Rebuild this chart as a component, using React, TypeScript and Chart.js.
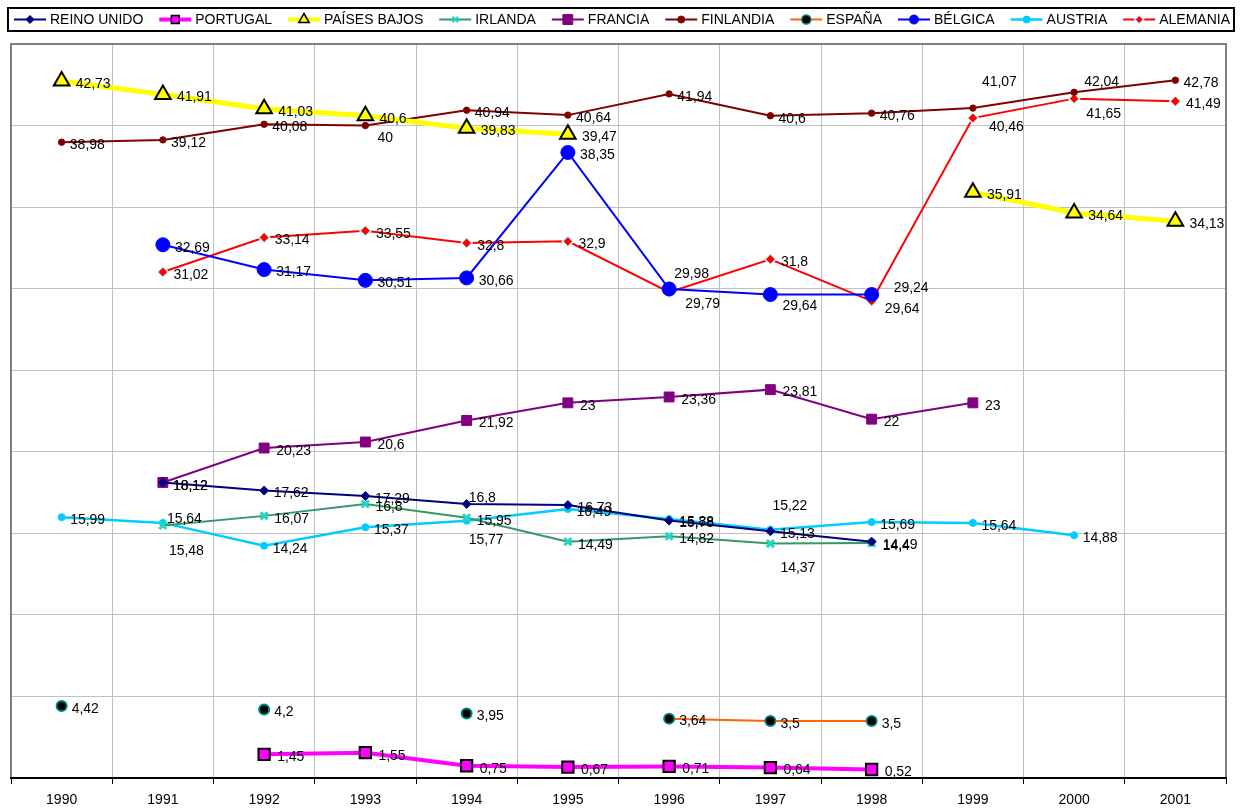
import React, { useEffect, useRef } from 'react';
import { Chart, registerables } from 'chart.js';
import { drawPoint } from 'chart.js/helpers';

Chart.register(...registerables);

const FONT = '"Liberation Sans", Arial, Helvetica, sans-serif';

// ---------- data ----------
const years = ['1990', '1991', '1992', '1993', '1994', '1995', '1996', '1997', '1998', '1999', '2000', '2001'];

const seriesNames = ['REINO UNIDO', 'PORTUGAL', 'PAÍSES BAJOS', 'IRLANDA', 'FRANCIA', 'FINLANDIA', 'ESPAÑA', 'BÉLGICA', 'AUSTRIA', 'ALEMANIA'];

const reinoUnido = [null, 18.12, 17.62, 17.29, 16.8, 16.73, 15.78, 15.13, 14.49, null, null, null];
const portugal = [null, null, 1.45, 1.55, 0.75, 0.67, 0.71, 0.64, 0.52, null, null, null];
const paisesBajos = [42.73, 41.91, 41.03, 40.6, 39.83, 39.47, null, null, null, 35.91, 34.64, 34.13];
const irlanda = [null, 15.48, 16.07, 16.8, 15.95, 14.49, 14.82, 14.37, 14.4, null, null, null];
const francia = [null, 18.12, 20.23, 20.6, 21.92, 23, 23.36, 23.81, 22, 23, null, null];
const finlandia = [38.98, 39.12, 40.08, 40, 40.94, 40.64, 41.94, 40.6, 40.76, 41.07, 42.04, 42.78];
const espana = [4.42, null, 4.2, null, 3.95, null, 3.64, 3.5, 3.5, null, null, null];
const belgica = [null, 32.69, 31.17, 30.51, 30.66, 38.35, 29.98, 29.64, 29.64, null, null, null];
const austria = [15.99, 15.64, 14.24, 15.37, 15.77, 16.49, 15.88, 15.22, 15.69, 15.64, 14.88, null];
const alemania = [null, 31.02, 33.14, 33.55, 32.8, 32.9, 29.79, 31.8, 29.24, 40.46, 41.65, 41.49];

const seriesValues = [reinoUnido, portugal, paisesBajos, irlanda, francia, finlandia, espana, belgica, austria, alemania];

// y axis range / step
const yMin = 0;
const yMax = 45;
const yStep = 5;

// ---------- styles ----------
type Style = {
  line: string;
  width: number;
  pointStyle: string;
  radius: number;
  fill: string;
  border: string;
  borderW: number;
  legendRadius: number;
};

const styles: Style[] = [
  { line: '#000080', width: 2, pointStyle: 'rectRot', radius: 4.5, fill: '#000080', border: '#000080', borderW: 1, legendRadius: 4 },
  { line: '#FF00FF', width: 4, pointStyle: 'rect', radius: 8, fill: '#FF00FF', border: '#000000', borderW: 2, legendRadius: 5.5 },
  { line: '#FFFF00', width: 5, pointStyle: 'triangle', radius: 9, fill: '#FFFF00', border: '#000000', borderW: 2, legendRadius: 6 },
  { line: '#339966', width: 2, pointStyle: 'crossRot', radius: 5, fill: '#33CCCC', border: '#22D8C4', borderW: 3, legendRadius: 4 },
  { line: '#800080', width: 2, pointStyle: 'rect', radius: 7, fill: '#800080', border: '#800080', borderW: 1, legendRadius: 7 },
  { line: '#800000', width: 2, pointStyle: 'circle', radius: 3.2, fill: '#800000', border: '#800000', borderW: 1, legendRadius: 3.5 },
  { line: '#FF6600', width: 2, pointStyle: 'circle', radius: 5, fill: '#000000', border: '#008080', borderW: 2, legendRadius: 4.5 },
  { line: '#0000FF', width: 2, pointStyle: 'circle', radius: 7, fill: '#0000FF', border: '#0000FF', borderW: 1, legendRadius: 4.5 },
  { line: '#00CCFF', width: 2.5, pointStyle: 'circle', radius: 3.5, fill: '#00CCFF', border: '#00CCFF', borderW: 1, legendRadius: 3.5 },
  { line: '#FF0000', width: 2, pointStyle: 'rectRot', radius: 5.5, fill: '#FF0000', border: '#CCFFFF', borderW: 1.5, legendRadius: 4.5 },
];

// label nudges [dx, dy] relative to point centre, by series index and category index
const labelNudges: Record<number, Record<number, [number, number]>> = {
  0: { 1: [10, 4], 4: [2, -6], 6: [10, 3], 8: [11, 3] },
  3: { 1: [6, 26], 7: [10, 25], 8: [11, 3] },
  4: { 1: [10, 4] },
  5: { 3: [12, 13], 9: [9, -26], 10: [10, -10] },
  7: { 6: [5, -15], 7: [12, 12], 8: [13, 15] },
  8: { 1: [4, -4], 4: [2, 19], 6: [10, 3], 7: [2, -24] },
  9: { 6: [16, 12], 8: [22, -13], 9: [16, 9], 10: [12, 15] },
};

const fmt = (v: number) => String(v).replace('.', ',');

// ---------- plugins ----------
const framePlugin = {
  id: 'frame',
  beforeDatasetsDraw(chart: any) {
    const { ctx, chartArea: a } = chart;
    ctx.save();
    ctx.strokeStyle = '#808080';
    ctx.lineWidth = 2;
    ctx.beginPath();
    ctx.moveTo(a.left, a.bottom);
    ctx.lineTo(a.left, a.top);
    ctx.lineTo(a.right, a.top);
    ctx.lineTo(a.right, a.bottom);
    ctx.stroke();
    ctx.strokeStyle = '#000000';
    ctx.beginPath();
    ctx.moveTo(a.left - 1, a.bottom);
    ctx.lineTo(a.right + 1, a.bottom);
    ctx.stroke();
    ctx.restore();
  },
};

const labelsPlugin = {
  id: 'valueLabels',
  afterDatasetsDraw(chart: any) {
    const { ctx } = chart;
    ctx.save();
    ctx.font = `14px ${FONT}`;
    ctx.fillStyle = '#000';
    ctx.textAlign = 'left';
    ctx.textBaseline = 'middle';
    seriesValues.forEach((vals, i) => {
      const meta = chart.getDatasetMeta(i);
      vals.forEach((v, j) => {
        if (v == null) return;
        const pt = meta.data[j];
        const n = labelNudges[i]?.[j] ?? [styles[i].radius + 5, 3];
        ctx.fillText(fmt(v), pt.x + n[0], pt.y + n[1]);
      });
    });
    ctx.restore();
  },
};

const legendPlugin = {
  id: 'customLegend',
  afterDraw(chart: any) {
    const { ctx } = chart;
    const boxL = 8, boxT = 8, boxR = 1234, boxB = 31;
    const cy = (boxT + boxB) / 2;
    ctx.save();
    ctx.fillStyle = '#fff';
    ctx.fillRect(boxL, boxT, boxR - boxL, boxB - boxT);
    ctx.strokeStyle = '#000';
    ctx.lineWidth = 2;
    ctx.strokeRect(boxL, boxT, boxR - boxL, boxB - boxT);
    ctx.font = `14px ${FONT}`;
    const lineLen = 32;
    const gapText = 4;
    const widths = seriesNames.map((n) => lineLen + gapText + ctx.measureText(n).width);
    const start = boxL + 6;
    const end = boxR - 4;
    const total = widths.reduce((s, w) => s + w, 0);
    const gap = (end - start - total) / (seriesNames.length - 1);
    let x = start;
    seriesNames.forEach((name, i) => {
      const st = styles[i];
      ctx.strokeStyle = st.line;
      ctx.lineWidth = Math.min(st.width, 4);
      ctx.beginPath();
      ctx.moveTo(x, cy);
      ctx.lineTo(x + lineLen, cy);
      ctx.stroke();
      ctx.fillStyle = st.fill;
      ctx.strokeStyle = st.border;
      ctx.lineWidth = st.pointStyle === 'crossRot' ? 2 : Math.min(st.borderW, 1.5);
      drawPoint(ctx, { pointStyle: st.pointStyle as any, radius: st.legendRadius, rotation: 0, borderWidth: ctx.lineWidth }, x + lineLen / 2, cy);
      ctx.fillStyle = '#000';
      ctx.textAlign = 'left';
      ctx.textBaseline = 'middle';
      ctx.fillText(name, x + lineLen + gapText, cy + 1);
      x += widths[i] + gap;
    });
    ctx.restore();
  },
};

export default function App() {
  const ref = useRef<HTMLCanvasElement | null>(null);

  useEffect(() => {
    if (!ref.current) return;
    const datasets = seriesNames.map((name, i) => {
      const st = styles[i];
      return {
        label: name,
        data: seriesValues[i],
        borderColor: st.line,
        backgroundColor: st.fill,
        borderWidth: st.width,
        pointStyle: st.pointStyle as any,
        pointRadius: st.radius,
        pointHoverRadius: st.radius,
        pointBackgroundColor: st.fill,
        pointBorderColor: st.border,
        pointBorderWidth: st.borderW,
        spanGaps: false,
        tension: 0,
        fill: false,
      };
    });

    const chart = new Chart(ref.current, {
      type: 'line',
      data: { labels: years, datasets },
      options: {
        responsive: false,
        animation: false,
        layout: { padding: { top: 44, left: 10, right: 14, bottom: 0 } },
        plugins: {
          legend: { display: false },
          tooltip: { enabled: false },
        },
        scales: {
          x: {
            offset: true,
            grid: { offset: true, color: '#c0c0c0', lineWidth: 1, tickColor: '#000', tickLength: 6, drawTicks: true },
            border: { color: '#000', width: 2 },
            ticks: { color: '#000', font: { family: FONT, size: 14 }, padding: 8, maxRotation: 0, autoSkip: false },
            afterFit: (s: any) => {
              s.height = 32;
            },
          },
          y: {
            min: yMin,
            max: yMax,
            ticks: { stepSize: yStep, display: false },
            grid: { color: '#c0c0c0', lineWidth: 1, drawTicks: false },
            border: { display: false },
            afterFit: (s: any) => {
              s.width = 0;
            },
          },
        },
      } as any,
      plugins: [framePlugin, labelsPlugin, legendPlugin],
    });
    return () => chart.destroy();
  }, []);

  return (
    <div style={{ position: 'absolute', left: 0, top: 0, width: 1240, height: 810, background: '#fff' }}>
      <canvas ref={ref} width={1240} height={810} style={{ display: 'block' }} />
    </div>
  );
}
